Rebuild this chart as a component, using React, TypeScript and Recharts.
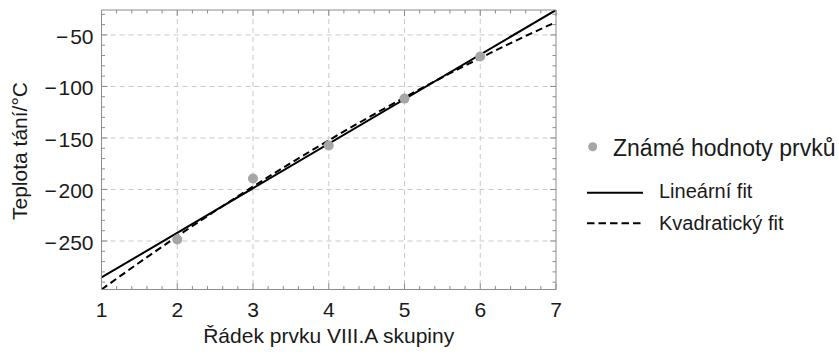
import React from "react";
import {
  ComposedChart,
  Line,
  Scatter,
  XAxis,
  YAxis,
  CartesianGrid,
} from "recharts";

// known melting points of noble gases (row of the periodic table -> °C)
const elementRows = [2, 3, 4, 5, 6];
const meltingPoints = [-248.6, -189.3, -157.4, -111.8, -71.0];

// fitted curves
const linearFitX = [1, 7];
const linearFitY = [-285.4, -25.8];
const quadFitX = [1, 1.5, 2, 2.5, 3, 3.5, 4, 4.5, 5, 5.5, 6, 6.5, 7];
const quadFitY = [-297.1, -270.9, -245.5, -220.9, -197.2, -174.3, -152.3, -131.1, -110.7, -91.1, -72.4, -54.5, -37.5];

const xTickLabels = [1, 2, 3, 4, 5, 6, 7];
const yTickLabels = [-50, -100, -150, -200, -250];
const gridX = [2, 3, 4, 5, 6];
const gridY = [-50, -100, -150, -200, -250];

const X_DOMAIN = [1, 7];
const Y_DOMAIN = [-297.1, -25.8];

const FONT = '"Liberation Sans", Arial, sans-serif';
const FRAME = "#8c8c8c";
const TEXT = "#1a1a1a";
const POINT = "#a6a6a6";

const pointData = elementRows.map((x, i) => ({ x, y: meltingPoints[i] }));
const linearData = linearFitX.map((x, i) => ({ x, y: linearFitY[i] }));
const quadData = quadFitX.map((x, i) => ({ x, y: quadFitY[i] }));

// minor ticks every 0.2 on x and every 10 on y
const xMinor: number[] = [];
for (let i = 0; i <= 30; i++) xMinor.push(Math.round((1 + i * 0.2) * 10) / 10);
const yMinor: number[] = [];
for (let v = -290; v <= -30; v += 10) yMinor.push(v);

const isMajorX = (v: number) => xTickLabels.some((t) => Math.abs(t - v) < 1e-6);
const isMajorY = (v: number) => yTickLabels.includes(v);

const fmt = (v: number) => (v < 0 ? "\u2212\u200A" + Math.abs(v) : String(v));

function BottomTick(props: any) {
  const { x, y, payload } = props;
  const major = isMajorX(payload.value);
  return (
    <g>
      <line x1={x} y1={y} x2={x} y2={y - (major ? 6 : 3.5)} stroke={FRAME} strokeWidth={1} />
      {major && (
        <text x={x} y={y + 27} textAnchor="middle" fontSize={21} fontFamily={FONT} fill={TEXT}>
          {payload.value}
        </text>
      )}
    </g>
  );
}

function TopTick(props: any) {
  const { x, y, payload } = props;
  const major = isMajorX(payload.value);
  return <line x1={x} y1={y} x2={x} y2={y + (major ? 6 : 3.5)} stroke={FRAME} strokeWidth={1} />;
}

function LeftTick(props: any) {
  const { x, y, payload } = props;
  const major = isMajorY(payload.value);
  return (
    <g>
      <line x1={x} y1={y} x2={x + (major ? 6 : 3.5)} y2={y} stroke={FRAME} strokeWidth={1} />
      {major && (
        <text x={x - 8} y={y + 9} textAnchor="end" fontSize={21} fontFamily={FONT} fill={TEXT}>
          {fmt(payload.value)}
        </text>
      )}
    </g>
  );
}

function RightTick(props: any) {
  const { x, y, payload } = props;
  const major = isMajorY(payload.value);
  return <line x1={x} y1={y} x2={x - (major ? 6 : 3.5)} y2={y} stroke={FRAME} strokeWidth={1} />;
}

const Dot = (props: any) => <circle cx={props.cx} cy={props.cy} r={5} fill={POINT} />;

export default function App() {
  return (
    <div style={{ position: "absolute", left: 0, top: 0, width: 839, height: 355 }}>
      <ComposedChart
        width={839}
        height={355}
        margin={{ top: 9, right: 282, bottom: 64.5, left: 0 }}
      >
        <CartesianGrid
          xAxisId="bottom"
          yAxisId="left"
          stroke="#c8c8c8"
          strokeDasharray="5 4"
          verticalValues={gridX}
          horizontalValues={gridY}
        />
        <XAxis
          xAxisId="bottom"
          dataKey="x"
          type="number"
          domain={X_DOMAIN}
          ticks={xMinor}
          interval={0}
          height={1}
          tickSize={0}
          tickMargin={0}
          tickLine={false}
          tick={BottomTick}
          axisLine={{ stroke: FRAME }}
          allowDataOverflow
        />
        <XAxis
          xAxisId="top"
          orientation="top"
          dataKey="x"
          type="number"
          domain={X_DOMAIN}
          ticks={xMinor}
          interval={0}
          height={1}
          tickSize={0}
          tickMargin={0}
          tickLine={false}
          tick={TopTick}
          axisLine={{ stroke: FRAME }}
          allowDataOverflow
        />
        <YAxis
          yAxisId="left"
          type="number"
          domain={Y_DOMAIN}
          ticks={yMinor}
          interval={0}
          width={101.5}
          tickSize={0}
          tickMargin={0}
          tickLine={false}
          tick={LeftTick}
          axisLine={{ stroke: FRAME }}
          allowDataOverflow
        />
        <YAxis
          yAxisId="right"
          orientation="right"
          type="number"
          domain={Y_DOMAIN}
          ticks={yMinor}
          interval={0}
          width={1}
          tickSize={0}
          tickMargin={0}
          tickLine={false}
          tick={RightTick}
          axisLine={{ stroke: FRAME }}
          allowDataOverflow
        />
        <Scatter
          xAxisId="bottom"
          yAxisId="left"
          data={pointData}
          dataKey="y"
          shape={<Dot />}
          isAnimationActive={false}
        />
        <Line
          xAxisId="bottom"
          yAxisId="left"
          data={linearData}
          dataKey="y"
          type="linear"
          stroke="#000"
          strokeWidth={2}
          dot={false}
          activeDot={false}
          isAnimationActive={false}
        />
        <Line
          xAxisId="bottom"
          yAxisId="left"
          data={quadData}
          dataKey="y"
          type="monotone"
          stroke="#000"
          strokeWidth={2}
          strokeDasharray="7 4"
          dot={false}
          activeDot={false}
          isAnimationActive={false}
        />
      </ComposedChart>

      <svg
        width={839}
        height={355}
        style={{ position: "absolute", left: 0, top: 0, pointerEvents: "none" }}
      >
        <text
          transform="translate(27,151) rotate(-90)"
          textAnchor="middle"
          fontSize={21}
          fontFamily={FONT}
          fill={TEXT}
        >
          Teplota tání/°C
        </text>
        <text x={328.7} y={343} textAnchor="middle" fontSize={21} fontFamily={FONT} fill={TEXT}>
          Řádek prvku VIII.A skupiny
        </text>

        <circle cx={592.7} cy={146.7} r={4.5} fill={POINT} />
        <text x={613} y={155.5} fontSize={23} fontFamily={FONT} fill={TEXT}>
          Známé hodnoty prvků
        </text>
        <line x1={587} y1={192.7} x2={643} y2={192.7} stroke="#000" strokeWidth={2} />
        <text x={659} y={198.3} fontSize={20} fontFamily={FONT} fill={TEXT}>
          Lineární fit
        </text>
        <line x1={587} y1={223.3} x2={643} y2={223.3} stroke="#000" strokeWidth={2} strokeDasharray="7.5 4" />
        <text x={659} y={230} fontSize={20} fontFamily={FONT} fill={TEXT}>
          Kvadratický fit
        </text>
      </svg>
    </div>
  );
}
